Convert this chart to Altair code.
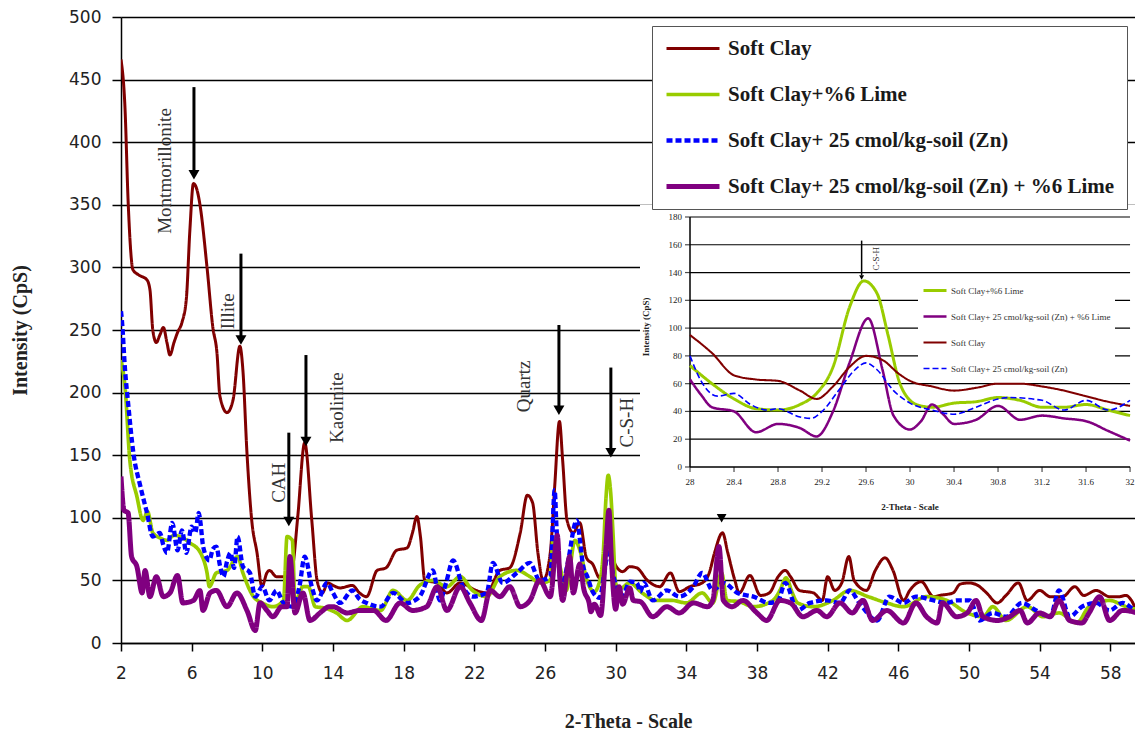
import altair as alt
import pandas as pd

# ---------------- data ----------------
SERIES = ["Soft Clay", "Soft Clay+%6 Lime", "Soft Clay+ 25 cmol/kg-soil (Zn)",
          "Soft Clay+ 25 cmol/kg-soil (Zn) + %6 Lime"]
COLORS = ["#800000", "#99CC00", "#0000FF", "#800080"]
WIDTHS = [3, 5, 3, 3]
DASHES = [[1, 0], [1, 0], [6, 3], [1, 0]]

SOFT_CLAY = [(2.0, 466), (2.23, 426), (2.4, 354), (2.68, 298), (3.0, 294), (3.47, 290), (3.64, 282),
             (3.8, 250), (4.0, 240), (4.2, 246), (4.4, 252), (4.6, 240), (4.77, 230), (5.0, 240),
             (5.2, 248), (5.45, 256), (5.7, 275), (5.9, 330), (6.1, 367), (6.3, 362), (6.47, 350),
             (6.87, 300), (7.2, 252), (7.43, 232), (7.6, 197), (8.0, 184), (8.34, 194), (8.73, 237),
             (8.9, 218), (9.13, 152), (9.4, 98), (9.7, 72), (9.98, 45), (10.26, 56), (10.4, 58),
             (10.8, 53), (11.4, 53), (11.7, 60), (12.0, 100), (12.4, 160), (12.8, 98), (13.1, 50),
             (13.4, 40), (13.7, 48), (14.0, 46), (14.4, 44), (15.1, 46), (15.5, 40), (15.9, 37),
             (16.5, 58), (17.0, 60), (17.6, 74), (18.2, 76), (18.5, 88), (18.75, 101), (18.95, 85),
             (19.2, 50), (19.9, 48), (20.45, 40), (21.2, 48), (22.1, 42), (22.7, 40), (23.45, 58),
             (24.0, 60), (24.6, 88), (25.0, 118), (25.3, 112), (25.6, 72), (25.9, 50), (26.3, 72),
             (26.55, 125), (26.82, 177), (27.0, 146), (27.25, 98), (27.6, 88), (27.97, 96),
             (28.35, 68), (28.7, 63), (29.1, 52), (29.6, 78), (30.0, 62), (30.4, 57), (30.8, 61),
             (31.2, 60), (31.8, 50), (32.5, 45), (33.1, 56), (33.6, 41), (34.2, 45), (34.9, 48),
             (35.3, 56), (35.6, 72), (36.05, 88), (36.35, 72), (36.75, 50), (37.0, 40), (37.6, 54),
             (38.2, 38), (38.7, 40), (39.2, 53), (39.6, 58), (39.9, 53), (40.4, 42), (41.2, 40),
             (41.7, 34), (42.0, 53), (42.4, 42), (42.8, 48), (43.2, 69), (43.5, 50), (44.2, 42),
             (44.7, 58), (45.25, 68), (45.7, 58), (46.3, 34), (46.65, 42), (47.3, 49), (48.0, 37),
             (48.35, 38), (49.1, 40), (49.5, 47), (50.0, 48), (50.5, 46), (51.0, 40), (51.6, 32),
             (52.1, 38), (52.8, 48), (53.3, 34), (54.0, 42), (54.6, 37), (55.3, 37), (56.0, 45),
             (56.5, 38), (57.2, 42), (57.96, 37), (58.5, 37), (58.9, 38), (59.2, 34), (59.5, 27),
             (59.8, 38)]

LIME = [(2.0, 226), (2.23, 204), (2.5, 146), (2.9, 117), (3.25, 98), (3.5, 105), (3.8, 88),
        (4.2, 84), (4.6, 82), (5.0, 86), (5.35, 85), (5.9, 80), (6.5, 72), (6.87, 56), (7.0, 45),
        (7.4, 56), (8.0, 58), (8.6, 69), (8.9, 56), (9.5, 37), (10.0, 32), (10.6, 29), (11.2, 34),
        (11.4, 85), (11.7, 82), (11.85, 32), (12.3, 45), (12.6, 45), (13.0, 29), (13.5, 28),
        (14.2, 24), (14.8, 18), (15.7, 29), (16.7, 26), (17.4, 42), (18.2, 34), (18.9, 46),
        (19.65, 50), (20.45, 45), (21.2, 53), (21.9, 42), (22.7, 37), (23.45, 53), (24.4, 58),
        (25.15, 53), (25.7, 48), (26.3, 50), (26.45, 82), (26.85, 61), (27.2, 42), (27.7, 82),
        (28.0, 73), (28.4, 49), (28.8, 41), (29.15, 53), (29.3, 72), (29.45, 115), (29.58, 134),
        (29.72, 120), (29.85, 88), (30.0, 48), (30.2, 43), (30.8, 48), (31.5, 40), (32.3, 34),
        (33.2, 34), (34.0, 32), (34.9, 40), (35.5, 32), (36.0, 56), (36.3, 34), (37.0, 33),
        (37.8, 29), (38.9, 34), (39.3, 42), (39.65, 52), (40.0, 40), (40.3, 32), (41.2, 29),
        (42.3, 34), (43.25, 42), (44.3, 37), (45.35, 32), (46.3, 29), (47.6, 37), (48.75, 34),
        (49.9, 24), (50.8, 21), (51.35, 29), (52.1, 18), (53.3, 29), (54.2, 21), (55.1, 24),
        (56.1, 16), (56.8, 29), (57.96, 34), (58.9, 29), (59.8, 26)]

ZN = [(2.0, 265), (2.05, 258), (2.23, 218), (2.4, 192), (2.7, 152), (3.1, 125), (3.47, 104),
      (3.8, 85), (4.2, 88), (4.4, 78), (4.6, 72), (4.9, 96), (5.2, 74), (5.45, 90), (5.7, 72),
      (6.0, 93), (6.2, 88), (6.4, 104), (6.5, 96), (6.65, 77), (7.0, 66), (7.2, 75), (7.4, 77),
      (7.6, 62), (7.8, 53), (8.0, 65), (8.2, 72), (8.4, 60), (8.6, 85), (8.9, 61), (9.3, 56),
      (9.6, 37), (10.0, 45), (10.4, 34), (10.8, 42), (11.2, 32), (11.7, 29), (12.1, 45),
      (12.4, 69), (12.8, 45), (13.1, 34), (13.66, 48), (14.0, 40), (14.4, 32), (15.1, 42),
      (15.5, 35), (15.9, 32), (16.7, 29), (17.4, 40), (18.2, 32), (18.9, 37), (19.65, 58),
      (20.05, 34), (20.4, 48), (20.8, 66), (21.35, 45), (21.9, 37), (22.7, 40), (23.05, 64),
      (23.6, 48), (24.4, 56), (25.15, 64), (25.7, 50), (26.3, 53), (26.55, 122), (26.65, 93),
      (26.96, 45), (27.25, 61), (27.8, 98), (28.0, 80), (28.15, 62), (28.4, 53), (28.7, 41),
      (29.1, 36), (29.35, 55), (29.6, 75), (29.85, 55), (30.05, 45), (30.4, 38), (30.8, 49),
      (31.2, 48), (31.4, 41), (31.6, 48), (32.1, 34), (32.9, 42), (33.6, 37), (34.4, 45),
      (34.9, 56), (35.5, 42), (36.1, 48), (36.9, 40), (37.8, 37), (38.7, 32), (39.2, 34),
      (39.6, 48), (40.3, 26), (41.0, 32), (41.95, 34), (42.7, 32), (43.25, 42), (43.8, 32),
      (44.8, 18), (45.5, 37), (46.3, 32), (47.0, 37), (48.0, 34), (48.75, 32), (49.3, 34),
      (50.05, 34), (50.6, 18), (51.35, 24), (52.1, 21), (53.0, 32), (53.8, 26), (54.6, 21),
      (55.1, 42), (55.7, 21), (56.4, 29), (57.2, 32), (57.96, 26), (58.7, 32), (59.5, 26),
      (59.8, 30)]

ZN_LIME = [(2.0, 133), (2.17, 106), (2.4, 104), (2.6, 69), (2.9, 61), (3.2, 40), (3.36, 58),
           (3.64, 37), (4.0, 53), (4.4, 37), (4.77, 40), (5.2, 54), (5.5, 32), (6.1, 34),
           (6.47, 42), (6.64, 26), (7.04, 40), (7.4, 42), (8.0, 29), (8.56, 40), (9.13, 26),
           (9.6, 10), (9.87, 32), (10.26, 26), (10.6, 21), (11.1, 29), (11.4, 29), (11.56, 69),
           (11.85, 24), (12.3, 40), (12.7, 18), (13.26, 24), (13.8, 29), (14.0, 29), (14.8, 24),
           (15.5, 26), (16.3, 26), (17.0, 18), (17.8, 32), (18.5, 26), (19.3, 29), (19.9, 45),
           (20.45, 26), (21.2, 45), (21.75, 32), (22.4, 18), (22.9, 42), (23.45, 37), (24.0, 45),
           (24.6, 29), (25.15, 34), (25.7, 50), (26.3, 37), (26.7, 86), (26.85, 50), (27.0, 34),
           (27.4, 69), (27.6, 40), (27.97, 63), (28.2, 43), (28.5, 32), (28.6, 25), (28.8, 31),
           (29.15, 22), (29.45, 75), (29.62, 106), (29.75, 70), (30.0, 27), (30.2, 45), (30.4, 31),
           (30.8, 44), (31.0, 34), (31.4, 33), (32.1, 21), (32.9, 29), (33.6, 24), (34.4, 32),
           (35.2, 29), (35.5, 34), (35.85, 77), (36.1, 34), (36.6, 29), (37.2, 34), (38.0, 24),
           (38.55, 18), (39.3, 34), (39.9, 32), (40.6, 21), (41.4, 26), (41.95, 21), (42.7, 32),
           (43.4, 24), (44.0, 34), (44.55, 18), (45.35, 26), (46.3, 16), (47.0, 32), (47.6, 21),
           (48.2, 16), (48.5, 32), (49.3, 21), (49.9, 24), (50.4, 34), (50.8, 21), (51.6, 18),
           (52.3, 21), (52.9, 26), (53.3, 16), (54.0, 24), (54.6, 21), (55.1, 34), (55.7, 18),
           (56.4, 16), (56.8, 24), (57.4, 37), (57.96, 18), (58.7, 26), (59.5, 24), (59.8, 22)]

# inset (28-32 degrees zoom)
IN_SOFT_CLAY = [(28.0, 95), (28.2, 82), (28.4, 66), (28.6, 63), (28.8, 62), (29.0, 55), (29.15, 49),
                (29.3, 58), (29.45, 72), (29.6, 80), (29.75, 77), (29.9, 67), (30.0, 62), (30.2, 58),
                (30.4, 55), (30.6, 57), (30.8, 60), (31.0, 60), (31.2, 58), (31.4, 55), (31.6, 51),
                (31.8, 47), (32.0, 44)]
IN_LIME = [(28.0, 73), (28.2, 60), (28.4, 49), (28.6, 42), (28.8, 41), (29.0, 45), (29.15, 53),
           (29.3, 72), (29.45, 115), (29.58, 134), (29.7, 125), (29.8, 95), (29.9, 62), (30.0, 48),
           (30.1, 44), (30.2, 43), (30.4, 46), (30.6, 47), (30.8, 50), (31.0, 48), (31.2, 43),
           (31.4, 43), (31.6, 45), (31.8, 41), (32.0, 37)]
IN_ZN = [(28.0, 80), (28.1, 62), (28.25, 51), (28.4, 53), (28.55, 45), (28.7, 41), (28.8, 42),
         (29.0, 36), (29.1, 35), (29.2, 40), (29.35, 55), (29.5, 70), (29.6, 75), (29.7, 70),
         (29.85, 55), (30.0, 46), (30.2, 41), (30.4, 38), (30.6, 43), (30.8, 49), (30.9, 50),
         (31.2, 48), (31.4, 41), (31.6, 48), (31.8, 41), (32.0, 48)]
IN_ZN_LIME = [(28.0, 63), (28.1, 52), (28.2, 43), (28.4, 40), (28.6, 25), (28.8, 31), (29.0, 28),
              (29.15, 22), (29.3, 40), (29.45, 75), (29.62, 107), (29.75, 70), (29.85, 37),
              (30.0, 27), (30.1, 33), (30.2, 45), (30.3, 38), (30.4, 31), (30.6, 34), (30.8, 44),
              (31.0, 34), (31.2, 37), (31.4, 35), (31.6, 33), (31.8, 26), (32.0, 19)]
INSET_ORDER = [SERIES[1], SERIES[3], SERIES[0], SERIES[2]]
INSET_COLORS = ["#99CC00", "#800080", "#800000", "#0000FF"]
INSET_WIDTHS = [3, 1.6, 1.6, 1.6]
INSET_DASHES = [[1, 0], [1, 0], [1, 0], [6, 3]]

# axes
X_TICKS = [2, 6, 10, 14, 18, 22, 26, 30, 34, 38, 42, 46, 50, 54, 58]
Y_TICKS = [0, 50, 100, 150, 200, 250, 300, 350, 400, 450, 500]
IN_X_TICKS = [28, 28.4, 28.8, 29.2, 29.6, 30, 30.4, 30.8, 31.2, 31.6, 32]
IN_X_LABELS = ["28", "28.4", "28.8", "29.2", "29.6", "30", "30.4", "30.8", "31.2", "31.6", "32"]
IN_Y_TICKS = [0, 20, 40, 60, 80, 100, 120, 140, 160, 180]

# annotations
LABEL_TEXT = ["Montmorillonite", "Illite", "CAH", "Kaolinite", "Quartz", "C-S-H"]
LABEL_X = [4.49, 8.06, 10.94, 14.2, 24.8, 30.64]
LABEL_Y = [377, 265, 128, 188, 205, 176]
ARROW_X = [6.13, 8.79, 11.5, 12.47, 26.79, 29.73, 36.0]
ARROW_TOP = [444, 311, 168, 230, 254, 220, 105]
ARROW_TIP = [370, 238, 93, 157, 182, 148, 96]
IN_ARROW_X = [29.56]
IN_ARROW_TOP = [163]
IN_ARROW_TIP = [135]
IN_LABEL_TEXT = ["C-S-H"]
IN_LABEL_X = [29.69]
IN_LABEL_Y = [150]

# where the inset sits, in main-chart data units (layout)
IN_X0, IN_X1 = 34.21, 59.12      # inset 28 .. 32
IN_Y0, IN_Y1 = 140.58, 340.26    # inset 0 .. 180
XS = (IN_X1 - IN_X0) / 4.0
YS = (IN_Y1 - IN_Y0) / 180.0


def xm(field):
    return f"{IN_X0} + (datum.{field} - 28) * {XS}"


def ym(field):
    return f"{IN_Y0} + datum.{field} * {YS}"


def frame(pairs, name):
    return pd.DataFrame({"x": [p[0] for p in pairs], "y": [p[1] for p in pairs], "series": name})


main_df = pd.concat([frame(SOFT_CLAY, SERIES[0]), frame(LIME, SERIES[1]),
                     frame(ZN, SERIES[2]), frame(ZN_LIME, SERIES[3])], ignore_index=True)
inset_df = pd.concat([frame(IN_LIME, SERIES[1]), frame(IN_ZN_LIME, SERIES[3]),
                      frame(IN_SOFT_CLAY, SERIES[0]), frame(IN_ZN, SERIES[2])], ignore_index=True)

SERIF = "Liberation Serif"
SANS = "DejaVu Sans"
W, H = 1014, 626

XSC = alt.Scale(domain=[2, 59.4], nice=False, zero=False)
YSC = alt.Scale(domain=[0, 500], nice=False)

main_legend = alt.Legend(title=None, orient="none", legendX=531, legendY=9, fillColor="white",
                         strokeColor="#555555", padding=12, symbolType="stroke", symbolSize=2809,
                         clipHeight=21, rowPadding=24, labelFont=SERIF, labelFontSize=21,
                         labelFontWeight="bold", labelColor="#1a1a1a", labelOffset=6, labelLimit=700)
inset_legend = alt.Legend(title=None, orient="none", legendX=797, legendY=265, fillColor="white",
                          padding=4, symbolType="stroke", symbolSize=529, clipHeight=9, rowPadding=16,
                          labelFont=SERIF, labelFontSize=9, labelColor="#333333", labelOffset=3,
                          labelLimit=400)


def X(field="x"):
    return alt.X(f"{field}:Q", scale=XSC)


def Y(field="y"):
    return alt.Y(f"{field}:Q", scale=YSC)


# ---------------- main chart ----------------
main_lines = alt.Chart(main_df).mark_line(interpolate="monotone", clip=True).encode(
    x=alt.X("x:Q", scale=XSC, axis=alt.Axis(
        values=X_TICKS, grid=False, tickSize=8, tickColor="#000", tickWidth=1.5,
        domainColor="#000", domainWidth=1.5, labelFont=SANS, labelFontSize=17, labelColor="#222",
        labelPadding=14, labelFlush=False, labelOverlap=False,
        title="2-Theta - Scale", titleFont=SERIF, titleFontSize=20, titleFontWeight="bold",
        titleColor="#222", titleY=78, titleBaseline="middle")),
    y=alt.Y("y:Q", scale=YSC, axis=alt.Axis(
        values=Y_TICKS, grid=True, gridColor="#000", gridWidth=1.3, tickSize=9, tickColor="#000",
        tickWidth=1.5, domainColor="#000", domainWidth=1.5, labelFont=SANS, labelFontSize=17,
        labelColor="#222", labelPadding=11, labelOverlap=False,
        title="Intensity (CpS)", titleFont=SERIF, titleFontSize=20, titleFontWeight="bold",
        titleColor="#222", titleX=-101, titleY=313, titleAngle=270, titleBaseline="middle")),
    color=alt.Color("series:N", scale=alt.Scale(domain=SERIES, range=COLORS), legend=main_legend),
    strokeDash=alt.StrokeDash("series:N", scale=alt.Scale(domain=SERIES, range=DASHES), legend=main_legend),
    strokeWidth=alt.StrokeWidth("series:N", scale=alt.Scale(domain=SERIES, range=WIDTHS), legend=main_legend),
)

lab_df = pd.DataFrame({"x": LABEL_X, "y": LABEL_Y, "t": LABEL_TEXT})
labels = alt.Chart(lab_df).mark_text(angle=270, font=SERIF, fontSize=19, color="#333",
                                     align="center", baseline="middle").encode(x=X(), y=Y(), text="t:N")

arr_df = pd.DataFrame({"x": ARROW_X, "top": ARROW_TOP, "tip": ARROW_TIP})
arrow_lines = alt.Chart(arr_df).transform_calculate(end="datum.tip + 5").mark_rule(
    color="#000", strokeWidth=3).encode(x=X(), y=Y("top"), y2="end:Q")
arrow_heads = alt.Chart(arr_df).mark_point(shape="triangle-down", filled=True, size=120, color="#000",
                                           opacity=1, yOffset=-5).encode(x=X(), y=Y("tip"))

# ---------------- inset chart (placed inside the main plot) ----------------
bg = alt.Chart(pd.DataFrame({"k": [0]})).mark_rect(color="white").encode(
    x=alt.value(519), x2=alt.value(W), y=alt.value(188), y2=alt.value(497))

ytk = pd.DataFrame({"v": IN_Y_TICKS, "x0": 28, "x1": 32})
xtk = pd.DataFrame({"v": IN_X_TICKS, "lab": IN_X_LABELS, "z": 0})

in_grid = alt.Chart(ytk[ytk.v > 0]).transform_calculate(
    gy=ym("v"), gx0=xm("x0"), gx1=xm("x1")).mark_rule(color="#000", strokeWidth=1.2).encode(
    x=X("gx0"), x2="gx1:Q", y=Y("gy"))

axis_df = pd.DataFrame({"a0": [28], "a1": [32], "b0": [0], "b1": [180]})
in_yaxis = alt.Chart(axis_df).transform_calculate(ax=xm("a0"), ay0=ym("b0"), ay1=ym("b1")).mark_rule(
    color="#000", strokeWidth=1.5).encode(x=X("ax"), y=Y("ay0"), y2="ay1:Q")
in_xaxis = alt.Chart(axis_df).transform_calculate(ax0=xm("a0"), ax1=xm("a1"), ay=ym("b0")).mark_rule(
    color="#000", strokeWidth=1.5).encode(x=X("ax0"), x2="ax1:Q", y=Y("ay"))

in_yticks = alt.Chart(ytk).transform_calculate(ty=ym("v"), tx=xm("x0")).mark_tick(
    orient="horizontal", size=5, thickness=1.2, color="#000", xOffset=-2.5).encode(x=X("tx"), y=Y("ty"))
in_ylabels = alt.Chart(ytk).transform_calculate(ty=ym("v"), tx=xm("x0")).mark_text(
    align="right", baseline="middle", dx=-8, font=SERIF, fontSize=9, color="#222").encode(
    x=X("tx"), y=Y("ty"), text=alt.Text("v:Q", format="d"))
in_xticks = alt.Chart(xtk).transform_calculate(tx=xm("v"), ty=ym("z")).mark_tick(
    orient="vertical", size=5, thickness=1.2, color="#000", yOffset=2.5).encode(x=X("tx"), y=Y("ty"))
in_xlabels = alt.Chart(xtk).transform_calculate(tx=xm("v"), ty=ym("z")).mark_text(
    align="center", baseline="middle", dy=15, font=SERIF, fontSize=9, color="#222").encode(
    x=X("tx"), y=Y("ty"), text="lab:N")

title_df = pd.DataFrame({"t": ["2-Theta - Scale", "Intensity (CpS)"], "x": [30, 28], "y": [0, 90]})
in_xtitle = alt.Chart(title_df.iloc[[0]]).transform_calculate(tx=xm("x"), ty=ym("y")).mark_text(
    baseline="middle", dy=40, font=SERIF, fontSize=9, fontWeight="bold", color="#222").encode(
    x=X("tx"), y=Y("ty"), text="t:N")
# rotated text: dx runs along the text (upwards), dy runs to the right
in_ytitle = alt.Chart(title_df.iloc[[1]]).transform_calculate(tx=xm("x"), ty=ym("y")).mark_text(
    baseline="middle", align="center", angle=270, dx=15, dy=-44, font=SERIF, fontSize=9,
    fontWeight="bold", color="#222").encode(x=X("tx"), y=Y("ty"), text="t:N")

in_lines = alt.Chart(inset_df).transform_calculate(ix=xm("x"), iy=ym("y")).mark_line(
    interpolate="monotone").encode(
    x=X("ix"), y=Y("iy"),
    color=alt.Color("series:N", scale=alt.Scale(domain=INSET_ORDER, range=INSET_COLORS), legend=inset_legend),
    strokeDash=alt.StrokeDash("series:N", scale=alt.Scale(domain=INSET_ORDER, range=INSET_DASHES), legend=inset_legend),
    strokeWidth=alt.StrokeWidth("series:N", scale=alt.Scale(domain=INSET_ORDER, range=INSET_WIDTHS), legend=inset_legend),
)

in_arr_df = pd.DataFrame({"x": IN_ARROW_X, "top": IN_ARROW_TOP, "tip": IN_ARROW_TIP})
in_arrow_line = alt.Chart(in_arr_df).transform_calculate(
    ax=xm("x"), ay0=ym("top"), ay1=f"{IN_Y0} + (datum.tip + 3) * {YS}").mark_rule(
    color="#000", strokeWidth=1.5).encode(x=X("ax"), y=Y("ay0"), y2="ay1:Q")
in_arrow_head = alt.Chart(in_arr_df).transform_calculate(ax=xm("x"), ay=ym("tip")).mark_point(
    shape="triangle-down", filled=True, size=25, color="#000", opacity=1, yOffset=-2).encode(
    x=X("ax"), y=Y("ay"))
in_lab_df = pd.DataFrame({"x": IN_LABEL_X, "y": IN_LABEL_Y, "t": IN_LABEL_TEXT})
in_label = alt.Chart(in_lab_df).transform_calculate(ax=xm("x"), ay=ym("y")).mark_text(
    angle=270, font=SERIF, fontSize=9, color="#333", align="center", baseline="middle").encode(
    x=X("ax"), y=Y("ay"), text="t:N")

chart = alt.layer(
    main_lines, labels, arrow_lines, arrow_heads,
    bg, in_grid, in_yaxis, in_xaxis, in_yticks, in_ylabels, in_xticks, in_xlabels,
    in_xtitle, in_ytitle, in_lines, in_arrow_line, in_arrow_head, in_label,
).resolve_scale(
    color="independent", strokeDash="independent", strokeWidth="independent"
).properties(
    width=W, height=H,
    autosize=alt.AutoSizeParams(type="none"),
    padding={"left": 113, "top": 9, "right": 0, "bottom": 87},
    background="white",
).configure_view(stroke=None)

chart.save("out.html", embed_options={"renderer": "svg", "actions": False})
